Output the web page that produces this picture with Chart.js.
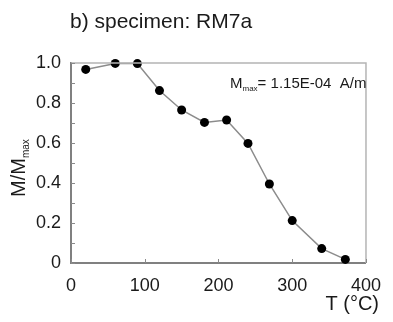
<!DOCTYPE html>
<html>
<head>
<meta charset="utf-8">
<script src="https://cdn.jsdelivr.net/npm/chart.js@4.4.1/dist/chart.umd.min.js"></script>
<style>
  html, body { margin: 0; padding: 0; background: #fff; }
  #wrap { width: 393px; height: 322px; }
</style>
</head>
<body>
<div id="wrap"><canvas id="c" width="393" height="322"></canvas></div>
<script>
// temperature steps (°C) and normalised moment M/Mmax
const temps = [20, 60, 90, 120, 150, 181, 211, 240, 269, 300, 340, 372];
const moments = [0.968, 0.998, 0.997, 0.862, 0.765, 0.703, 0.715, 0.598, 0.395, 0.212, 0.072, 0.018];
const xTicks = [0, 100, 200, 300, 400];
const yTicks = [0, 0.2, 0.4, 0.6, 0.8, 1.0];

const titleText = 'b) specimen: RM7a';
const mmaxText = '= 1.15E-04  A/m';
const xTitle = 'T (°C)';
const FONT = '"Liberation Sans", Arial, sans-serif';

// subscript text helper
function subText(ctx, main, sub, x, y, size, subSize) {
  ctx.font = size + 'px ' + FONT;
  ctx.fillText(main, x, y);
  const w = ctx.measureText(main).width;
  ctx.font = subSize + 'px ' + FONT;
  ctx.fillText(sub, x + w, y + size * 0.2);
  return w + ctx.measureText(sub).width;
}

const decor = {
  id: 'decor',
  afterDraw(chart) {
    const ctx = chart.ctx;
    const a = chart.chartArea;
    const xs = chart.scales.x, ys = chart.scales.y;
    ctx.save();
    // light top/right frame
    ctx.strokeStyle = '#b4b4b4';
    ctx.lineWidth = 1.5;
    ctx.beginPath();
    ctx.moveTo(a.left, a.top); ctx.lineTo(a.right, a.top); ctx.lineTo(a.right, a.bottom);
    ctx.stroke();
    // inward ticks
    ctx.strokeStyle = '#8a8a8a';
    ctx.lineWidth = 1;
    ctx.beginPath();
    for (let v = 0; v <= 1.0001; v += 0.1) {
      const py = Math.round(ys.getPixelForValue(v)) + 0.5;
      ctx.moveTo(a.left, py); ctx.lineTo(a.left + 4, py);
    }
    xTicks.forEach(v => {
      const px = Math.round(xs.getPixelForValue(v)) + 0.5;
      ctx.moveTo(px, a.bottom); ctx.lineTo(px, a.bottom - 4);
    });
    ctx.stroke();

    ctx.fillStyle = '#1a1a1a';
    ctx.textBaseline = 'alphabetic';
    // title
    ctx.textAlign = 'left';
    ctx.font = '21px ' + FONT;
    ctx.fillText(titleText, 70, 28);
    // Mmax note
    const nx = 230, ny = 88;
    const w = subText(ctx, 'M', 'max', nx, ny, 15, 8);
    ctx.font = '15px ' + FONT;
    ctx.fillText(mmaxText, nx + w, ny);
    // x title
    ctx.textAlign = 'right';
    ctx.font = '20px ' + FONT;
    ctx.fillText(xTitle, 379, 310);
    // y title, rotated
    ctx.save();
    ctx.translate(25, 197);
    ctx.rotate(-Math.PI / 2);
    ctx.textAlign = 'left';
    subText(ctx, 'M/M', 'max', 0, 0, 20, 10);
    ctx.restore();
    ctx.restore();
  }
};

new Chart(document.getElementById('c'), {
  type: 'scatter',
  data: {
    datasets: [{
      data: temps.map((t, i) => ({ x: t, y: moments[i] })),
      showLine: true,
      borderColor: '#8c8c8c',
      borderWidth: 1.5,
      pointRadius: 4.5,
      pointBackgroundColor: '#000',
      pointBorderColor: '#000',
      pointBorderWidth: 0,
      clip: false
    }]
  },
  options: {
    responsive: false,
    animation: false,
    layout: { padding: { left: 0, top: 63, right: 22, bottom: 0 } },
    plugins: { legend: { display: false }, tooltip: { enabled: false } },
    scales: {
      x: {
        type: 'linear', min: 0, max: 400,
        afterFit(s) { s.height = 59; },
        afterBuildTicks(s) { s.ticks = xTicks.map(v => ({ value: v })); },
        grid: { display: false, drawTicks: false },
        border: { color: '#808080', width: 2 },
        ticks: { padding: 12, color: '#1a1a1a', font: { family: FONT, size: 18 } }
      },
      y: {
        type: 'linear', min: 0, max: 1.0,
        afterFit(s) { s.width = 71; },
        afterBuildTicks(s) { s.ticks = yTicks.map(v => ({ value: v })); },
        grid: { display: false, drawTicks: false },
        border: { color: '#808080', width: 2 },
        ticks: {
          padding: 10, color: '#1a1a1a', font: { family: FONT, size: 18 },
          callback: v => (v === 0 ? '0' : v.toFixed(1))
        }
      }
    }
  },
  plugins: [decor]
});
</script>
</body>
</html>
